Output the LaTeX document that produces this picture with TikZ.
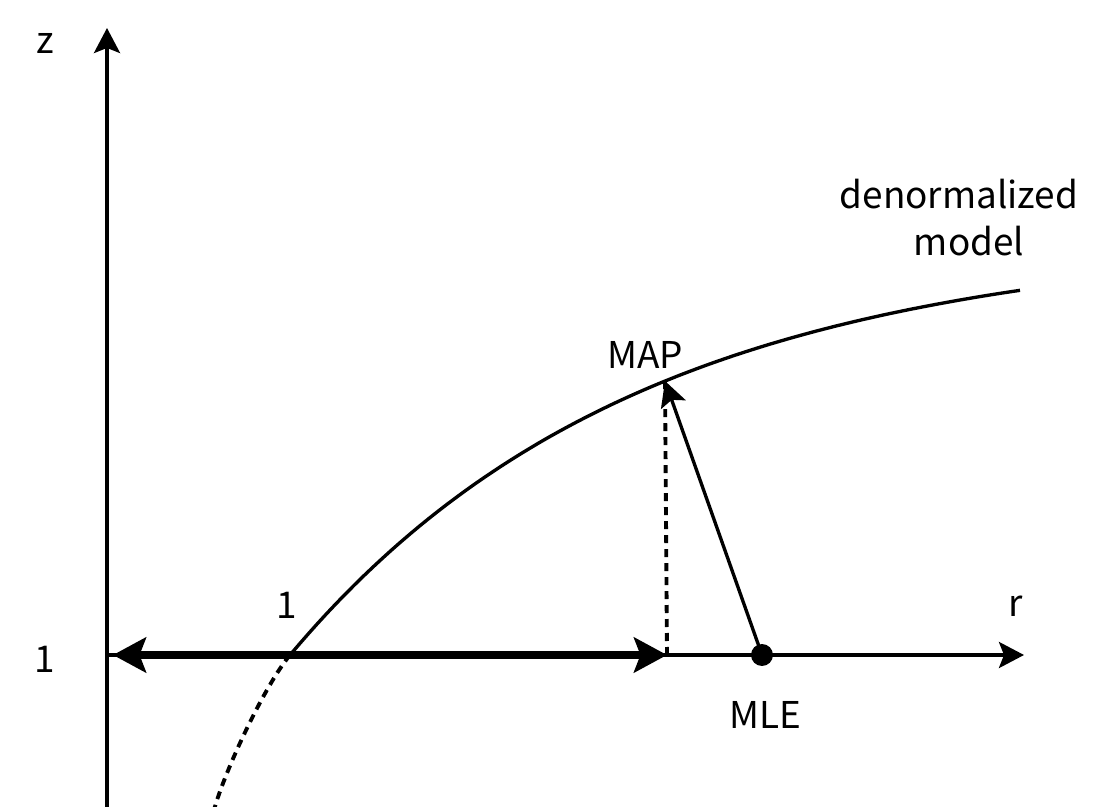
\documentclass[tikz,border=0pt]{standalone}
\usepackage{fontspec}
\setmainfont{Noto Sans CJK JP}
\usepackage{tikz}
\usetikzlibrary{arrows.meta,calc,positioning}

\begin{document}
\begin{tikzpicture}[x=0.02cm,y=-0.02cm,>={Stealth[length=0.5cm,width=0.52cm,inset=0.1cm]},
    axis/.style={line width=1.9pt,->},
    interval/.style={line width=4pt,{Stealth[length=0.66cm,width=0.7cm,inset=0.13cm]}-{Stealth[length=0.66cm,width=0.7cm,inset=0.13cm]}},
    model/.style={line width=1.9pt},
    guide/.style={line width=2.2pt,dash pattern=on 0.16cm off 0.12cm},
    dot/.style={circle,fill,inner sep=0pt,minimum size=0.44cm},
    lbl/.style={font=\fontsize{21}{26.6}\selectfont,inner sep=0pt}]
  \useasboundingbox (0,0) rectangle (1103,807);
  % axes
  \coordinate (zbot) at (107,807);
  \coordinate (ztop) at (107,28);
  \coordinate (rbeg) at (107,655);
  \coordinate (rend) at (1024,655);
  \draw[axis] (zbot) -- (ztop);
  \draw[axis] (rbeg) -- (rend);
  % interval up to the MAP
  \coordinate (ileft) at (113,655);
  \coordinate (one) at (290,655);
  \coordinate (mapfoot) at (667,655);
  \coordinate (map) at (665,381);
  \draw[interval] (ileft) -- (mapfoot);
  % model curve
  \draw[model] plot[domain=290:1020,samples=80] (\x,{655-416*(1-exp(-(\x-290)/349))});
  \draw[guide] (one) .. controls (265,685) and (225,770) .. (214,810);
  \draw[guide] (mapfoot) -- (map);
  % estimates
  \node[dot] (mle) at (762,655) {};
  \draw[line width=1.9pt,->] (mle.center) -- (map);
  % labels
  \node[lbl] (zlab) at (45,43) {z};
  \node[lbl] (rlab) at (1016,606) {r};
  \node[lbl] (zone) at (45,659) {1};
  \node[lbl] (rone) at (287,605) {1};
  \node[lbl] (maplab) at (645,355) {MAP};
  \node[lbl] (mlelab) at (765,715) {MLE};
  \node[lbl,anchor=base] (modlab) at (959,209) {denormalized};
  \node[lbl,anchor=base] (modlab2) at (969,256) {model};
\end{tikzpicture}
\end{document}
